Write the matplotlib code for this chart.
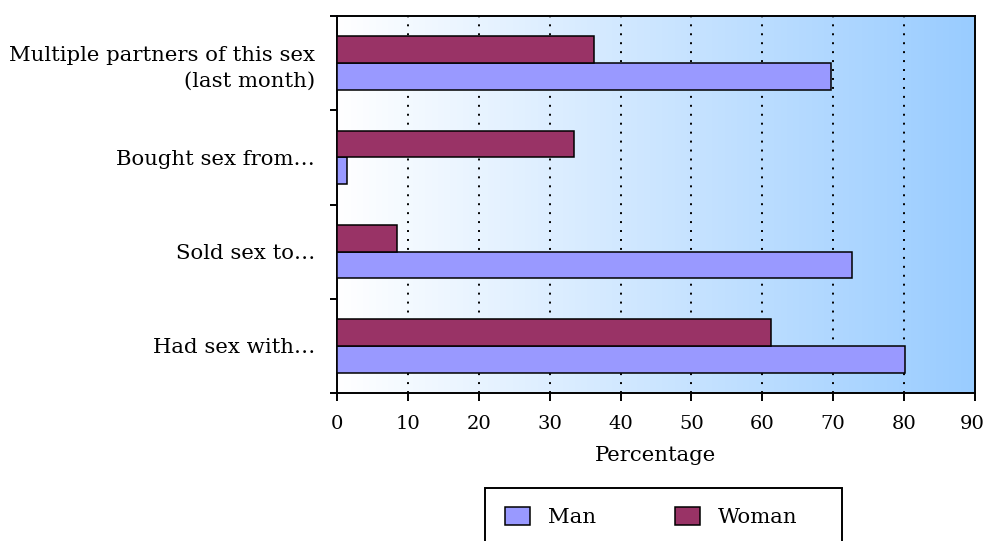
import numpy as np
import matplotlib
matplotlib.use("Agg")
import matplotlib.pyplot as plt
from matplotlib.colors import LinearSegmentedColormap
from matplotlib.patches import Rectangle
from matplotlib.transforms import ScaledTranslation

# data (top to bottom)
categories = ["Multiple partners of this sex\n(last month)", "Bought sex from\u2026",
              "Sold sex to\u2026", "Had sex with\u2026"]
man = [69.7, 1.4, 72.7, 80.1]
woman = [36.2, 33.4, 8.4, 61.2]
xticks = [0, 10, 20, 30, 40, 50, 60, 70, 80, 90]

plt.rcParams['font.family'] = ['DejaVu Serif']
plt.rcParams['font.size'] = 15.3

W, H = 985, 541
fig = plt.figure(figsize=(W / 100, H / 100), dpi=100)
ax = fig.add_axes([337 / W, 1 - 393 / H, (975 - 337) / W, (393 - 16) / H])

# background gradient white -> light blue
cmap = LinearSegmentedColormap.from_list('bg', ['#ffffff', '#99ccff'])
ax.imshow(np.linspace(0, 1, 256).reshape(1, -1), cmap=cmap, aspect='auto',
          extent=(0, 90, -0.5, 3.5), zorder=0)

ypos = np.arange(len(categories))[::-1]
h = 0.283
ax.barh(ypos - h / 2, man, h, color='#9999ff', edgecolor='black', linewidth=1.1,
        label='Man', zorder=3)
ax.barh(ypos + h / 2, woman, h, color='#993366', edgecolor='black', linewidth=1.1,
        label='Woman', zorder=3)

for x in xticks[1:-1]:
    ax.axvline(x, color='black', linewidth=1.4, linestyle=(0, (1, 3.6)), zorder=2)

ax.set_xlim(0, 90)
ax.set_ylim(-0.5, 3.5)
ax.set_xticks(xticks)
ax.set_yticks(np.arange(-0.5, 4, 1))
ax.set_yticklabels([])
ax.set_yticks(ypos, minor=True)
ax.set_yticklabels(categories, minor=True, linespacing=1.45)
ax.tick_params(axis='y', which='minor', length=0, pad=15.8)
ax.tick_params(axis='y', which='major', length=5, width=1.4, direction='out')
ax.tick_params(axis='x', length=5.8, width=1.4, direction='out', pad=10,
               labelsize=14)
for s in ax.spines.values():
    s.set_linewidth(1.4)
ax.set_xlabel('Percentage', labelpad=9.5)

# legend with a hand-drawn frame that runs off the bottom edge
fig.legend(loc='upper left', bbox_to_anchor=(485 / W, 1 - 487 / H), ncol=2,
           frameon=False, borderpad=0.95, handlelength=1.15, handleheight=0.9,
           handletextpad=0.88, columnspacing=3.7, borderaxespad=0)
fig.patches.append(Rectangle((485 / W, -0.05), (842 - 485) / W, 0.05 + 1 - 487.7 / H,
                             transform=fig.transFigure, fill=False,
                             edgecolor='black', linewidth=1.4))

# nudge the last x tick label so "90" stays inside the picture
fig.canvas.draw()
lab = ax.xaxis.get_major_ticks()[-1].label1
lab.set_transform(lab.get_transform() + ScaledTranslation(-3 / 100, 0, fig.dpi_scale_trans))

fig.savefig('out.png', dpi=100)
